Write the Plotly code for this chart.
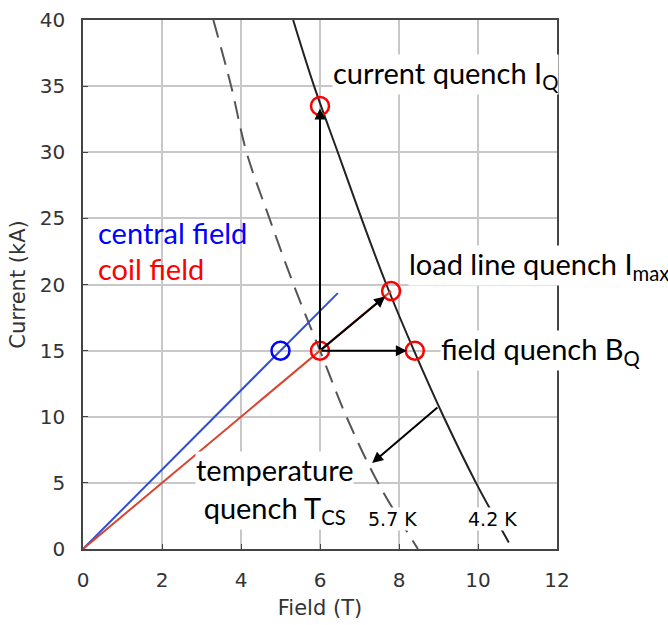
import plotly.graph_objects as go

# critical current lines (Field in T, Current in kA)
crit_42_B = [5.32, 5.85, 6.45, 7.05, 7.68, 8.38, 9.13, 9.95, 10.78]
crit_42_I = [40, 35, 30, 25, 20, 15, 10, 5, 0.5]
crit_57_B = [3.3, 3.75, 4.14, 4.72, 5.33, 6.0, 6.67, 7.47, 8.48]
crit_57_I = [40, 35, 30, 25, 20, 15, 10, 5, 0]

# load lines
central_B = [0, 6.45]
central_I = [0, 19.35]
coil_B = [0, 7.8]
coil_I = [0, 19.5]

# operating / quench points
red_pts_B = [6.0, 7.8, 6.0, 8.4]
red_pts_I = [33.5, 19.5, 15.0, 15.0]
blue_pts_B = [5.0]
blue_pts_I = [15.0]

# arrows: (tail B, tail I, tip B, tip I)
arrows = [
    (6.0, 15.0, 6.0, 33.3),
    (6.0, 15.0, 8.2, 15.0),
    (6.0, 15.0, 7.65, 19.1),
    (9.01, 10.8, 7.32, 6.5),
]

x_ticks = [0, 2, 4, 6, 8, 10, 12]
y_ticks = [0, 5, 10, 15, 20, 25, 30, 35, 40]

LBL_FONT = "Lato"
AX_FONT = "DejaVu Sans"

fig = go.Figure()

fig.add_trace(go.Scatter(x=crit_57_B, y=crit_57_I, mode='lines',
                         line=dict(color='#555555', width=2, dash='18px,10px'),
                         line_shape='spline', hoverinfo='skip'))
fig.add_trace(go.Scatter(x=crit_42_B, y=crit_42_I, mode='lines',
                         line=dict(color='#222222', width=2),
                         line_shape='spline', hoverinfo='skip'))
fig.add_trace(go.Scatter(x=central_B, y=central_I, mode='lines',
                         line=dict(color='#2f4fd0', width=2)))
fig.add_trace(go.Scatter(x=coil_B, y=coil_I, mode='lines',
                         line=dict(color='#d8452f', width=2)))

for tb, ti, hb, hi in arrows:
    fig.add_annotation(x=hb, y=hi, ax=tb, ay=ti, xref='x', yref='y',
                       axref='x', ayref='y', showarrow=True, text='',
                       arrowhead=2, arrowsize=1.1, arrowwidth=2,
                       arrowcolor='black', standoff=0, startstandoff=0)

fig.add_trace(go.Scatter(x=red_pts_B, y=red_pts_I, mode='markers',
                         marker=dict(symbol='circle-open', size=18, color='#ff0000',
                                     line=dict(width=2.5, color='#ff0000'))))
fig.add_trace(go.Scatter(x=blue_pts_B, y=blue_pts_I, mode='markers',
                         marker=dict(symbol='circle-open', size=18, color='#0000ff',
                                     line=dict(width=2.5, color='#0000ff'))))

def label(x, y, text, color='black', xanchor='left', bg=None, size=29, font=LBL_FONT, align='left'):
    fig.add_annotation(x=x, y=y, xref='x', yref='y', text=text, showarrow=False,
                       xanchor=xanchor, yanchor='middle', align=align,
                       font=dict(family=font, size=size, color=color),
                       bgcolor=bg, borderpad=0)

label(0.35, 23.9, 'central field', color='#0000ff')
label(0.35, 21.2, 'coil field', color='#ff0000')
label(6.3, 35.9, 'current quench I<sub>Q</sub>', bg='white')
label(8.22, 21.4, 'load line quench I<sub>max</sub>', bg='white')
label(9.04, 15.0, 'field quench B<sub>Q</sub>', bg='white')
label(4.86, 4.45, 'temperature<br>quench T<sub>CS</sub>', xanchor='center', bg='white', align='center')
label(7.84, 2.3, '5.7 K', xanchor='center', bg='white', size=19, font=AX_FONT)
label(10.37, 2.3, '4.2 K', xanchor='center', bg='white', size=19, font=AX_FONT)

axis_common = dict(showgrid=True, gridcolor='#c8c8c8', gridwidth=1.5,
                   showline=True, linecolor='#444444', linewidth=1.5, mirror=True,
                   ticks='inside', ticklen=5, tickcolor='#444444',
                   tickfont=dict(family=AX_FONT, size=20, color='#333333'),
                   zeroline=False, automargin=False)

fig.update_xaxes(range=[0, 12], tickvals=x_ticks, ticklabelstandoff=12,
                 title=dict(text='Field (T)', standoff=10,
                            font=dict(family=AX_FONT, size=21, color='#333333')),
                 **axis_common)
fig.update_yaxes(range=[0, 40], tickvals=y_ticks, ticklabelstandoff=12,
                 title=dict(text='Current (kA)', standoff=8,
                            font=dict(family=AX_FONT, size=21, color='#333333')),
                 **axis_common)

fig.update_layout(width=668, height=625, showlegend=False,
                  template='plotly_white',
                  plot_bgcolor='white', paper_bgcolor='white',
                  margin=dict(l=83, r=111, t=20, b=76))

fig.write_html("out.html", config={'displayModeBar': False},
               post_script="document.body.style.margin='0';")
